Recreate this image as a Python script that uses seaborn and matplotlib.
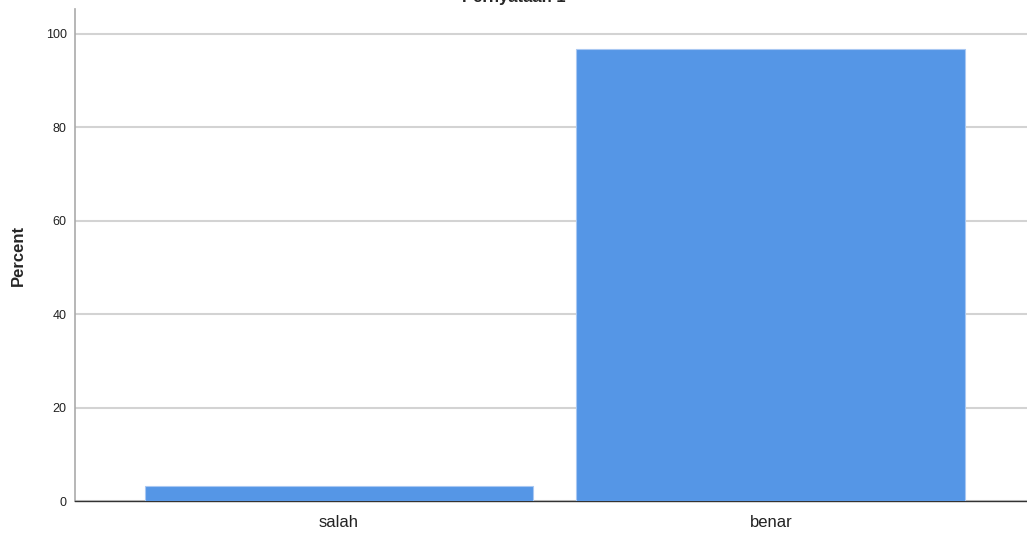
import matplotlib
matplotlib.use("Agg")
import matplotlib.pyplot as plt
import seaborn as sns
import pandas as pd

# data
categories = ["salah", "benar"]
percent = [3.3, 96.7]
title = "Pernyataan 1"

df = pd.DataFrame({"kategori": categories, "Percent": percent})

sns.set_style("white")
plt.rcParams["font.family"] = ["Liberation Sans", "DejaVu Sans"]

fig = plt.figure(figsize=(10.27, 5.34), dpi=100)
W, H = 1027, 534
ax = fig.add_axes([75 / W, 33 / H, (1027 - 75) / W, (501 - 9) / H])

sns.barplot(data=df, x="kategori", y="Percent", color="#5596e6", saturation=1,
            width=0.9, edgecolor="#a9c8f2", linewidth=0.8, ax=ax, zorder=3)

ax.set_ylim(0, 105.3)
ax.set_xlim(-0.611, 1.593)
ax.set_yticks([0, 20, 40, 60, 80, 100])
ax.yaxis.grid(True, color="#d3d3d3", linewidth=1.5, zorder=0)
ax.set_axisbelow(True)

for s in ["top", "right"]:
    ax.spines[s].set_visible(False)
ax.spines["left"].set_color("#aaaaaa")
ax.spines["left"].set_linewidth(1.2)
ax.spines["bottom"].set_color("#333333")
ax.spines["bottom"].set_linewidth(1.0)

ax.tick_params(axis="y", labelsize=9, length=0, pad=6, colors="#222222")
ax.tick_params(axis="x", labelsize=12, length=0, pad=10, colors="#222222")
ax.set_xlabel("")
ax.set_ylabel("Percent", fontsize=12, fontweight="bold", labelpad=14)

# title sits partly above the top edge, as in the reference
fig.text(0.5, 1.004, title, ha="center", va="center", fontsize=12, fontweight="bold")

fig.savefig("out.png", dpi=100)
